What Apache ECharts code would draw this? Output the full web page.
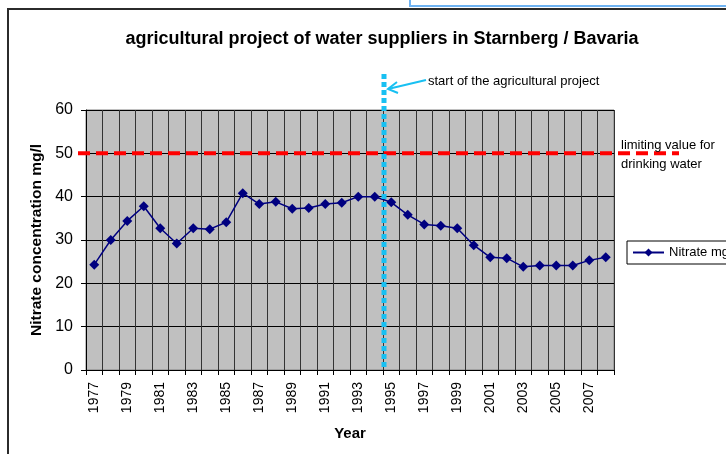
<!DOCTYPE html>
<html>
<head>
<meta charset="utf-8">
<script src="https://cdn.jsdelivr.net/npm/echarts@6/dist/echarts.min.js"></script>
<style>
html,body{margin:0;padding:0;background:#fff;}
#chart{width:726px;height:454px;}
</style>
</head>
<body>
<div id="chart"></div>
<script>
const years = ['1977','1978','1979','1980','1981','1982','1983','1984','1985','1986','1987','1988','1989','1990','1991','1992','1993','1994','1995','1996','1997','1998','1999','2000','2001','2002','2003','2004','2005','2006','2007','2008'];
const nitrate = [24.3,30.0,34.4,37.8,32.7,29.2,32.7,32.5,34.1,40.8,38.3,38.8,37.2,37.4,38.3,38.6,40.0,40.0,38.7,35.8,33.6,33.3,32.7,28.8,26.0,25.8,23.8,24.1,24.1,24.1,25.3,26.0];
const yTicks = [0,10,20,30,40,50,60];
const limitValue = 50;
const projectStartBetween = ['1994','1995'];
const titleText = 'agricultural project of water suppliers in Starnberg / Bavaria';
const seriesName = 'Nitrate mg/l';

const chart = echarts.init(document.getElementById('chart'), null, {renderer:'canvas'});
const font = 'Arial, "Liberation Sans", sans-serif';

chart.setOption({
  animation:false,
  backgroundColor:'#fff',
  title:{
    text:titleText, left:377, top:25, textAlign:'center',
    textStyle:{fontFamily:font, fontSize:18, fontWeight:'bold', color:'#000'}
  },
  legend:{
    left:627, top:241, itemWidth:31, itemHeight:10, itemGap:0,
    padding:[5,6,5,5],
    borderColor:'#000', borderWidth:1, backgroundColor:'#fff',
    textStyle:{fontFamily:font, fontSize:13, color:'#000'},
    data:[seriesName]
  },
  grid:{
    left:86, right:112, top:110, bottom:84,
    show:true, backgroundColor:'#C0C0C0', borderColor:'#808080', borderWidth:1
  },
  xAxis:{
    type:'category', data:years, boundaryGap:true,
    name:'Year', nameLocation:'middle', nameGap:56,
    nameTextStyle:{fontFamily:font, fontSize:15, fontWeight:'bold', color:'#000'},
    axisLine:{show:true, lineStyle:{color:'#000', width:1}},
    axisTick:{show:true, interval:0, length:5, lineStyle:{color:'#000'}},
    axisLabel:{interval:1, rotate:90, fontFamily:font, fontSize:14, color:'#000', margin:12},
    splitLine:{show:true, interval:0, lineStyle:{color:'#333', width:1}}
  },
  yAxis:{
    type:'value', min:yTicks[0], max:yTicks[yTicks.length-1], interval:10,
    name:'Nitrate concentration mg/l', nameLocation:'middle', nameGap:39,
    nameTextStyle:{fontFamily:font, fontSize:15.5, fontWeight:'bold', color:'#000'},
    axisLine:{show:true, lineStyle:{color:'#000', width:1}},
    axisTick:{show:true, length:5, lineStyle:{color:'#000'}},
    axisLabel:{fontFamily:font, fontSize:16, color:'#000', margin:13},
    splitLine:{show:true, lineStyle:{color:'#000', width:1}}
  },
  series:[{
    name:seriesName, type:'line', data:nitrate,
    symbol:'diamond', symbolSize:10,
    itemStyle:{color:'#000080'},
    lineStyle:{color:'#000080', width:1.5}
  }]
});

function drawOverlays(){
  const yLimit = chart.convertToPixel({yAxisIndex:0}, limitValue);
  const y0 = chart.convertToPixel({yAxisIndex:0}, yTicks[0]);
  const gridRect = chart.getModel().getComponent('grid').coordinateSystem.getRect();
  const xa = chart.convertToPixel({xAxisIndex:0}, projectStartBetween[0]);
  const xb = chart.convertToPixel({xAxisIndex:0}, projectStartBetween[1]);
  const xProj = (xa + xb) / 2 + 1;
  const blue = '#18C0F2';
  chart.setOption({
    graphic:[
      {type:'polyline', shape:{points:[[8,454],[8,9],[726,9]]}, style:{stroke:'#2b2b2b', lineWidth:2, fill:null}, z:50},
      {type:'polyline', shape:{points:[[410,0],[410,6],[726,6]]}, style:{stroke:'#6FB3F2', lineWidth:2, fill:null}, z:50},
      {type:'line', shape:{x1:gridRect.x-8, y1:yLimit, x2:gridRect.x+gridRect.width+65, y2:yLimit},
        style:{stroke:'#FF0000', lineWidth:4, lineDash:[12,6]}, z:60},
      {type:'text', left:621, top:yLimit-17, style:{text:'limiting value for\ndrinking water', font:'13px '+font, fill:'#000', lineHeight:19}, z:60},
      {type:'line', shape:{x1:xProj, y1:74, x2:xProj, y2:y0-2},
        style:{stroke:blue, lineWidth:5, lineDash:[5,3]}, z:61},
      {type:'line', shape:{x1:426, y1:80, x2:388, y2:89}, style:{stroke:blue, lineWidth:2}, z:62},
      {type:'polyline', shape:{points:[[397,82],[388,89],[398,93]]}, style:{stroke:blue, lineWidth:2, fill:null}, z:62},
      {type:'text', left:428, top:75, style:{text:'start of the agricultural project', font:'13px '+font, fill:'#000'}, z:62}
    ]
  });
}
drawOverlays();
</script>
</body>
</html>
